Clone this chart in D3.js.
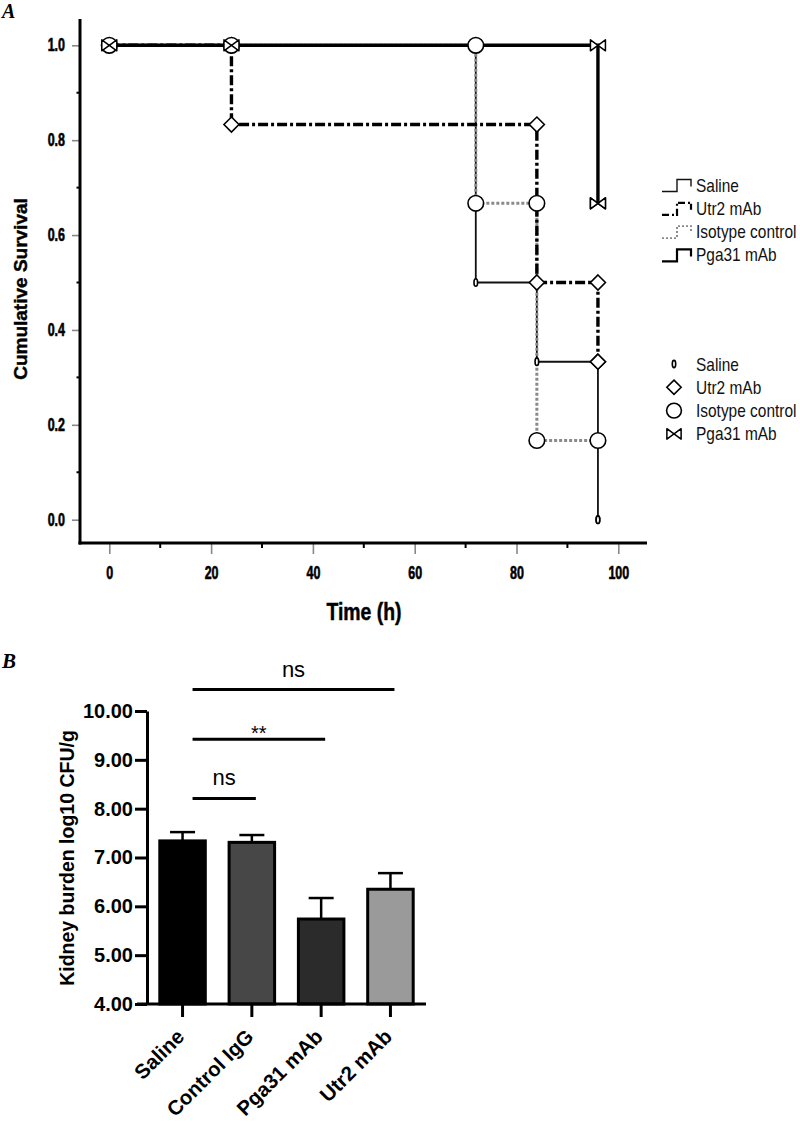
<!DOCTYPE html>
<html>
<head>
<meta charset="utf-8">
<script src="https://cdn.jsdelivr.net/npm/d3@7/dist/d3.min.js"></script>
<style>
  body { margin: 0; background: #fff; }
  svg { display: block; }
</style>
</head>
<body>
<div id="root"></div>
<script>
// ---------- Panel A data: Kaplan-Meier steps [time (h), survival] ----------
const survGroups = ["Saline", "Utr2 mAb", "Isotype control", "Pga31 mAb"];
const salineSteps = [[0, 1], [72, 0.5], [84, 0.333], [96, 0]];
const utr2Steps = [[0, 1], [24, 0.833], [84, 0.5], [96, 0.333]];
const isotypeSteps = [[0, 1], [72, 0.667], [84, 0.167]];
const pga31Steps = [[0, 1], [96, 0.667]];
const survEnd = 96;
const sharedMarkTimes = [0, 24];
const survYTicks = [0, 0.2, 0.4, 0.6, 0.8, 1.0];
const survXTicks = [0, 20, 40, 60, 80, 100];

// ---------- Panel B data ----------
const barGroups = ["Saline", "Control IgG", "Pga31 mAb", "Utr2 mAb"];
const barMeans = [7.34, 7.31, 5.74, 6.35];
const barErrors = [0.18, 0.15, 0.43, 0.33];
const barYTicks = [4, 5, 6, 7, 8, 9, 10];
const sigPairs = [["Saline", "Control IgG"], ["Saline", "Pga31 mAb"], ["Saline", "Utr2 mAb"]];
const sigLabels = ["ns", "**", "ns"];
const sigLevels = [8.21, 9.42, 10.44];

const svg = d3.select("#root").append("svg")
    .attr("width", 800)
    .attr("height", 1123);

const bold = "'Liberation Sans', Arial, sans-serif";

// ===================== Panel A =====================
const x = d3.scaleLinear().domain([0, 100]).range([109.3, 618.3]);
const y = d3.scaleLinear().domain([0, 1]).range([519.7, 45.3]);

const styles = {
  "Saline":          { stroke: "#111", width: 1.8, dash: null },
  "Utr2 mAb":        { stroke: "#000", width: 3.4, dash: "10,3,3,3" },
  "Isotype control": { stroke: "#8a8a8a", width: 3, dash: "3,2" },
  "Pga31 mAb":       { stroke: "#000", width: 3.4, dash: null }
};
const stepsOf = {
  "Saline": salineSteps, "Utr2 mAb": utr2Steps,
  "Isotype control": isotypeSteps, "Pga31 mAb": pga31Steps
};

const a = svg.append("g");

a.append("text").attr("x", 2).attr("y", 18)
  .attr("font-family", "'Liberation Serif', serif")
  .attr("font-weight", "bold").attr("font-style", "italic")
  .attr("font-size", 20).text("A");

// axes
const yAxisA = a.append("g").attr("transform", "translate(80,0)")
  .call(d3.axisLeft(y).tickValues(survYTicks).tickFormat(d3.format(".1f")).tickSize(8).tickPadding(7));
yAxisA.select(".domain").remove();
yAxisA.selectAll(".tick line").attr("stroke", "#888").attr("stroke-width", 1.6);
yAxisA.selectAll(".tick text").each(function () {
  const t = d3.select(this);
  const tx = +t.attr("x");
  t.attr("x", 0).attr("dy", null)
    .attr("transform", `translate(${tx},5.5) scale(0.86,1.22)`);
}).attr("font-family", bold).attr("font-weight", "bold").attr("font-size", 14.5)
  .attr("fill", "#000").attr("stroke", "#000").attr("stroke-width", 0.5);

// minor y ticks
a.append("g").selectAll("line")
  .data(d3.range(0.1, 1.0, 0.2))
  .join("line")
  .attr("x1", 76.5).attr("x2", 80)
  .attr("y1", d => y(d)).attr("y2", d => y(d))
  .attr("stroke", "#000").attr("stroke-width", 2);

const xAxisA = a.append("g").attr("transform", "translate(0,543)")
  .call(d3.axisBottom(x).tickValues(survXTicks).tickSize(11).tickPadding(11));
xAxisA.select(".domain").remove();
xAxisA.selectAll(".tick line").attr("stroke", "#888").attr("stroke-width", 1.6);
xAxisA.selectAll(".tick text").each(function () {
  d3.select(this).attr("y", 0).attr("dy", null)
    .attr("transform", "translate(0,36) scale(0.86,1.22)");
}).attr("font-family", bold).attr("font-weight", "bold").attr("font-size", 14.5)
  .attr("fill", "#000").attr("stroke", "#000").attr("stroke-width", 0.5);

a.append("g").selectAll("line")
  .data(d3.range(10, 100, 20))
  .join("line")
  .attr("x1", d => x(d)).attr("x2", d => x(d))
  .attr("y1", 543).attr("y2", 548)
  .attr("stroke", "#000").attr("stroke-width", 2);

a.append("line").attr("x1", 80).attr("x2", 80).attr("y1", 19).attr("y2", 544.5)
  .attr("stroke", "#000").attr("stroke-width", 3);
a.append("line").attr("x1", 78.5).attr("x2", 647).attr("y1", 543).attr("y2", 543)
  .attr("stroke", "#000").attr("stroke-width", 3);

a.append("text")
  .attr("transform", "translate(364,620) scale(0.97,1.2)")
  .attr("text-anchor", "middle")
  .attr("font-family", bold).attr("font-weight", "bold").attr("font-size", 20)
  .attr("stroke", "#000").attr("stroke-width", 0.4)
  .text("Time (h)");

a.append("text")
  .attr("transform", "translate(27,289) rotate(-90)")
  .attr("text-anchor", "middle")
  .attr("font-family", bold).attr("font-weight", "bold").attr("font-size", 19)
  .attr("stroke", "#000").attr("stroke-width", 0.4)
  .text("Cumulative Survival");

// survival step lines
const stepLine = d3.line().x(d => x(d[0])).y(d => y(d[1])).curve(d3.curveStepAfter);
const drawOrder = ["Saline", "Isotype control", "Utr2 mAb", "Pga31 mAb"];
drawOrder.forEach(g => {
  const st = stepsOf[g];
  const pts = st.concat([[survEnd, st[st.length - 1][1]]]);
  const s = styles[g];
  a.append("path").datum(pts)
    .attr("d", stepLine)
    .attr("fill", "none")
    .attr("stroke", s.stroke)
    .attr("stroke-width", s.width)
    .attr("stroke-dasharray", s.dash);
});

// marker shapes
function drawMarker(sel, g, px, py, k = 1) {
  if (g === "Saline") {
    sel.append("ellipse").attr("cx", px).attr("cy", py).attr("rx", 1.8 * k).attr("ry", 3.8 * k)
      .attr("fill", "#fff").attr("stroke", "#000").attr("stroke-width", 1.6);
  } else if (g === "Utr2 mAb") {
    const r = 7.5 * k;
    sel.append("path").attr("d", `M${px},${py - r}L${px + r},${py}L${px},${py + r}L${px - r},${py}Z`)
      .attr("fill", "#fff").attr("stroke", "#000").attr("stroke-width", 1.6);
  } else if (g === "Isotype control") {
    sel.append("circle").attr("cx", px).attr("cy", py).attr("r", 7.8 * k)
      .attr("fill", "#fff").attr("stroke", "#000").attr("stroke-width", 1.6);
  } else {
    const w = 7.5 * k, h = 5.5 * k;
    sel.append("path")
      .attr("d", `M${px - w},${py - h}L${px},${py}L${px - w},${py + h}Z M${px + w},${py - h}L${px},${py}L${px + w},${py + h}Z`)
      .attr("fill", "#fff").attr("stroke", "#000").attr("stroke-width", 1.5).attr("stroke-linejoin", "round");
  }
}

function survAt(st, t) {
  let v = 1;
  st.forEach(d => { if (d[0] < t) v = d[1]; });
  return v;
}

const markOrder = ["Saline", "Utr2 mAb", "Isotype control", "Pga31 mAb"];
const mk = a.append("g");
markOrder.forEach(g => {
  const st = stepsOf[g];
  const pts = [];
  sharedMarkTimes.forEach(t => pts.push([t, survAt(st, t)]));
  st.slice(1).forEach((d, i) => { pts.push([d[0], st[i][1]]); pts.push([d[0], d[1]]); });
  pts.push([survEnd, st[st.length - 1][1]]);
  pts.forEach(p => drawMarker(mk, g, x(p[0]), y(p[1])));
});

// legend 1: line styles
const lg1 = a.append("g");
survGroups.forEach((g, i) => {
  const by = 191.5 + i * 23.3;
  const s = styles[g];
  lg1.append("path")
    .attr("d", `M662,${by}H677V${by - 12}H691V${by - 5}`)
    .attr("fill", "none").attr("stroke", s.stroke)
    .attr("stroke-width", Math.max(1.4, s.width * 0.65))
    .attr("stroke-dasharray", s.dash ? (g === "Utr2 mAb" ? "7,3,2,2" : "2,2") : null);
  lg1.append("text").attr("transform", `translate(696,${by}) scale(1.03,1.2)`)
    .attr("font-family", bold).attr("font-size", 15).attr("fill", "#111")
    .text(g);
});

// legend 2: markers
const lg2 = a.append("g");
survGroups.forEach((g, i) => {
  const by = 370.5 + i * 23.3;
  drawMarker(lg2, g, 674, by - 6.5, 0.95);
  lg2.append("text").attr("transform", `translate(696,${by}) scale(1.03,1.2)`)
    .attr("font-family", bold).attr("font-size", 15).attr("fill", "#111")
    .text(g);
});

// ===================== Panel B =====================
const b = svg.append("g");
b.append("text").attr("x", 2).attr("y", 668)
  .attr("font-family", "'Liberation Serif', serif")
  .attr("font-weight", "bold").attr("font-style", "italic")
  .attr("font-size", 21).text("B");

const xb = d3.scaleBand().domain(barGroups).range([147, 426]).paddingInner(0.3).paddingOuter(0.163);
const yb = d3.scaleLinear().domain([4, 10]).range([1004, 711]);
const barFill = ["#000000", "#474747", "#2b2b2b", "#9a9a9a"];

const bars = barGroups.map((g, i) => ({ g, m: barMeans[i], e: barErrors[i], c: barFill[i] }));

// error bars (behind bars)
b.append("g").selectAll("g").data(bars).join("g").each(function (d) {
  const cx = xb(d.g) + xb.bandwidth() / 2;
  const s = d3.select(this);
  s.append("line").attr("x1", cx).attr("x2", cx).attr("y1", yb(d.m)).attr("y2", yb(d.m + d.e))
    .attr("stroke", "#000").attr("stroke-width", 2.5);
  s.append("line").attr("x1", cx - 12.5).attr("x2", cx + 12.5).attr("y1", yb(d.m + d.e)).attr("y2", yb(d.m + d.e))
    .attr("stroke", "#000").attr("stroke-width", 2.5);
});

b.append("g").selectAll("rect").data(bars).join("rect")
  .attr("x", d => xb(d.g) + 1.5)
  .attr("width", xb.bandwidth() - 3)
  .attr("y", d => yb(d.m))
  .attr("height", d => yb(4) - yb(d.m))
  .attr("fill", d => d.c)
  .attr("stroke", "#000").attr("stroke-width", 3);

const yAxisB = b.append("g").attr("transform", "translate(147,0)")
  .call(d3.axisLeft(yb).tickValues(barYTicks).tickFormat(d3.format(".2f")).tickSize(12).tickPadding(2).tickSizeOuter(0));
yAxisB.select(".domain").attr("stroke-width", 3);
yAxisB.selectAll(".tick line").attr("stroke-width", 3);
yAxisB.selectAll(".tick text").attr("font-family", bold).attr("font-weight", "bold")
  .attr("font-size", 20).attr("fill", "#000");

const xAxisB = b.append("g").attr("transform", "translate(0,1004)")
  .call(d3.axisBottom(xb).tickSize(13).tickSizeOuter(0).tickFormat(""));
xAxisB.select(".domain").remove();
xAxisB.selectAll(".tick line").attr("stroke-width", 3);
b.append("line").attr("x1", 137).attr("x2", 426).attr("y1", 1004).attr("y2", 1004)
  .attr("stroke", "#000").attr("stroke-width", 3);

b.append("g").selectAll("text").data(barGroups).join("text")
  .attr("transform", d => `translate(${xb(d) + xb.bandwidth() / 2 + 3},1038) rotate(-45)`)
  .attr("text-anchor", "end")
  .attr("font-family", bold).attr("font-weight", "bold").attr("font-size", 20.5)
  .text(d => d);

b.append("text")
  .attr("transform", "translate(74,858) rotate(-90)")
  .attr("text-anchor", "middle")
  .attr("font-family", bold).attr("font-weight", "bold").attr("font-size", 19.5)
  .text("Kidney burden log10 CFU/g");

// significance brackets
sigPairs.forEach((p, i) => {
  const x1 = xb(p[0]) + xb.bandwidth() / 2 + 10;
  const x2 = xb(p[1]) + xb.bandwidth() / 2 + 4;
  const ly = yb(sigLevels[i]);
  b.append("line").attr("x1", x1).attr("x2", x2).attr("y1", ly).attr("y2", ly)
    .attr("stroke", "#000").attr("stroke-width", 3);
  b.append("text").attr("x", (x1 + x2) / 2)
    .attr("y", sigLabels[i] === "**" ? ly + 1 : ly - 13)
    .attr("text-anchor", "middle")
    .attr("font-family", bold).attr("font-size", sigLabels[i] === "**" ? 20 : 22)
    .text(sigLabels[i]);
});
</script>
</body>
</html>
